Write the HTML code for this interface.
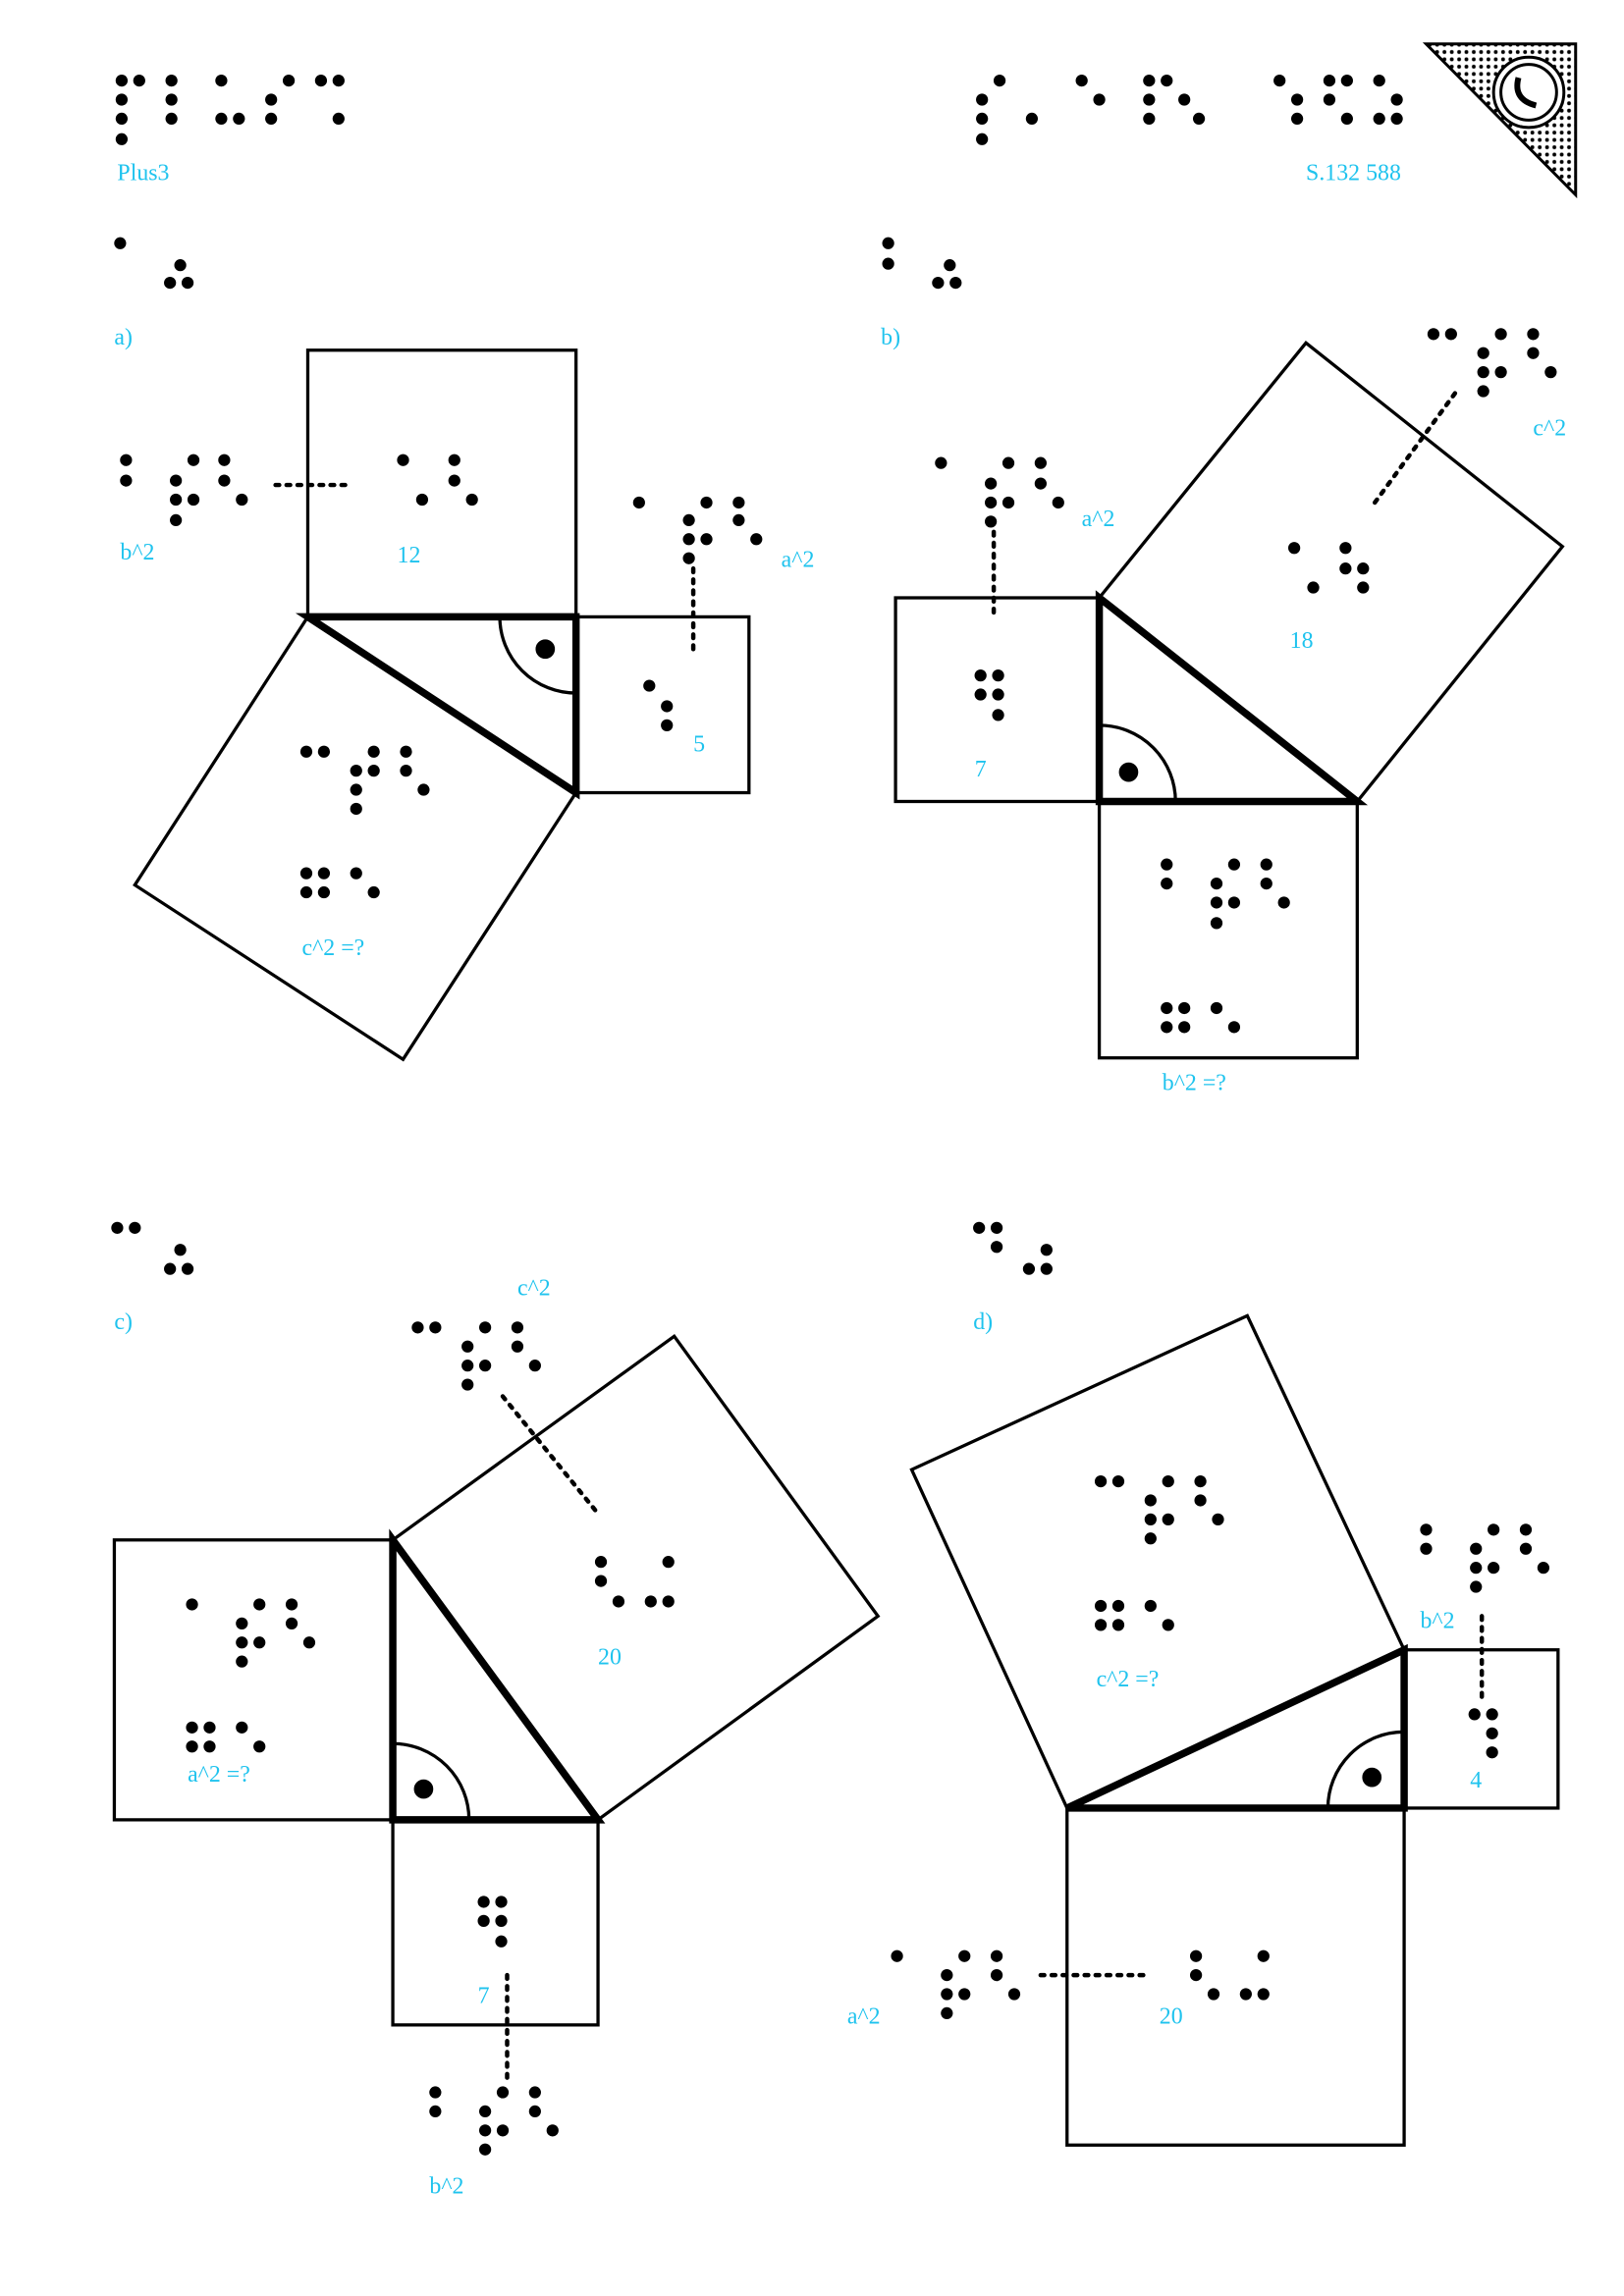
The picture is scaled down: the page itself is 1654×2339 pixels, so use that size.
<!DOCTYPE html>
<html><head><meta charset="utf-8"><style>html,body{margin:0;padding:0;background:#fff}svg{display:block}
text{font-family:"Liberation Serif",serif;fill:#1fc3ee;font-size:16px}
circle.d{r:4.2}</style></head><body>
<svg width="1654" height="2339" viewBox="2 2 1108 1567" preserveAspectRatio="none" xmlns="http://www.w3.org/2000/svg">
<defs><pattern id="dp" width="5" height="5" patternUnits="userSpaceOnUse"><circle cx="2.5" cy="2.5" r="1.3" fill="#000"/></pattern></defs>
<rect width="1120" height="1580" fill="#fff"/>
<polygon points="975,32 1077,32 1077,135" fill="url(#dp)" stroke="#000" stroke-width="2"/>
<circle cx="1045" cy="65" r="24" fill="#fff" stroke="#000" stroke-width="2"/>
<circle cx="1045" cy="65" r="19" fill="none" stroke="#000" stroke-width="2"/>
<path d="M1038,55 Q1034,70 1050,74" fill="none" stroke="#000" stroke-width="4"/>
<g fill="#000" stroke="#000" stroke-width="1.2">
<circle cx="85" cy="57" r="3.5"/><circle cx="97" cy="57" r="3.5"/><circle cx="85" cy="70" r="3.5"/><circle cx="85" cy="83" r="3.5"/><circle cx="85" cy="97" r="3.5"/>
<circle cx="119" cy="57" r="3.5"/><circle cx="119" cy="70" r="3.5"/><circle cx="119" cy="83" r="3.5"/>
<circle cx="153" cy="57" r="3.5"/><circle cx="153" cy="83" r="3.5"/><circle cx="165" cy="83" r="3.5"/>
<circle cx="187" cy="70" r="3.5"/><circle cx="199" cy="57" r="3.5"/><circle cx="187" cy="83" r="3.5"/>
<circle cx="221" cy="57" r="3.5"/><circle cx="233" cy="57" r="3.5"/><circle cx="233" cy="83" r="3.5"/>
<circle cx="672" cy="70" r="3.5"/><circle cx="684" cy="57" r="3.5"/><circle cx="672" cy="83" r="3.5"/><circle cx="672" cy="97" r="3.5"/><circle cx="706" cy="83" r="3.5"/>
<circle cx="740" cy="57" r="3.5"/><circle cx="752" cy="70" r="3.5"/><circle cx="786" cy="57" r="3.5"/><circle cx="798" cy="57" r="3.5"/><circle cx="786" cy="70" r="3.5"/><circle cx="786" cy="83" r="3.5"/><circle cx="810" cy="70" r="3.5"/><circle cx="820" cy="83" r="3.5"/>
<circle cx="875" cy="57" r="3.5"/><circle cx="887" cy="70" r="3.5"/><circle cx="887" cy="83" r="3.5"/><circle cx="909" cy="57" r="3.5"/><circle cx="921" cy="57" r="3.5"/><circle cx="909" cy="70" r="3.5"/><circle cx="921" cy="83" r="3.5"/><circle cx="943" cy="57" r="3.5"/><circle cx="955" cy="70" r="3.5"/><circle cx="943" cy="83" r="3.5"/><circle cx="955" cy="83" r="3.5"/>
<circle cx="84" cy="168" r="3.5"/><circle cx="125" cy="183" r="3.5"/><circle cx="118" cy="195" r="3.5"/><circle cx="130" cy="195" r="3.5"/>
<circle cx="608" cy="168" r="3.5"/><circle cx="608" cy="182" r="3.5"/><circle cx="650" cy="183" r="3.5"/><circle cx="642" cy="195" r="3.5"/><circle cx="654" cy="195" r="3.5"/>
<circle cx="82" cy="840" r="3.5"/><circle cx="94" cy="840" r="3.5"/><circle cx="125" cy="855" r="3.5"/><circle cx="118" cy="868" r="3.5"/><circle cx="130" cy="868" r="3.5"/>
<circle cx="670" cy="840" r="3.5"/><circle cx="682" cy="840" r="3.5"/><circle cx="682" cy="853" r="3.5"/><circle cx="716" cy="855" r="3.5"/><circle cx="704" cy="868" r="3.5"/><circle cx="716" cy="868" r="3.5"/>
<circle cx="88" cy="316" r="3.5"/><circle cx="88" cy="330" r="3.5"/><circle cx="122" cy="330" r="3.5"/><circle cx="134" cy="316" r="3.5"/><circle cx="122" cy="343" r="3.5"/><circle cx="122" cy="357" r="3.5"/><circle cx="134" cy="343" r="3.5"/><circle cx="155" cy="316" r="3.5"/><circle cx="155" cy="330" r="3.5"/><circle cx="167" cy="343" r="3.5"/>
<circle cx="277" cy="316" r="3.5"/><circle cx="290" cy="343" r="3.5"/><circle cx="312" cy="316" r="3.5"/><circle cx="312" cy="330" r="3.5"/><circle cx="324" cy="343" r="3.5"/>
<circle cx="438" cy="345" r="3.5"/><circle cx="472" cy="357" r="3.5"/><circle cx="484" cy="345" r="3.5"/><circle cx="472" cy="370" r="3.5"/><circle cx="472" cy="383" r="3.5"/><circle cx="484" cy="370" r="3.5"/><circle cx="506" cy="345" r="3.5"/><circle cx="506" cy="357" r="3.5"/><circle cx="518" cy="370" r="3.5"/>
<circle cx="445" cy="470" r="3.5"/><circle cx="457" cy="484" r="3.5"/><circle cx="457" cy="497" r="3.5"/>
<circle cx="211" cy="515" r="3.5"/><circle cx="223" cy="515" r="3.5"/><circle cx="245" cy="528" r="3.5"/><circle cx="257" cy="515" r="3.5"/><circle cx="245" cy="541" r="3.5"/><circle cx="257" cy="528" r="3.5"/><circle cx="245" cy="554" r="3.5"/><circle cx="279" cy="515" r="3.5"/><circle cx="279" cy="528" r="3.5"/><circle cx="291" cy="541" r="3.5"/>
<circle cx="211" cy="598" r="3.5"/><circle cx="223" cy="598" r="3.5"/><circle cx="211" cy="611" r="3.5"/><circle cx="223" cy="611" r="3.5"/><circle cx="245" cy="598" r="3.5"/><circle cx="257" cy="611" r="3.5"/>
<circle cx="374" cy="445" r="6"/>
<circle cx="644" cy="318" r="3.5"/><circle cx="678" cy="332" r="3.5"/><circle cx="690" cy="318" r="3.5"/><circle cx="678" cy="345" r="3.5"/><circle cx="678" cy="358" r="3.5"/><circle cx="690" cy="345" r="3.5"/><circle cx="712" cy="318" r="3.5"/><circle cx="712" cy="332" r="3.5"/><circle cx="724" cy="345" r="3.5"/>
<circle cx="980" cy="230" r="3.5"/><circle cx="992" cy="230" r="3.5"/><circle cx="1014" cy="243" r="3.5"/><circle cx="1026" cy="230" r="3.5"/><circle cx="1014" cy="256" r="3.5"/><circle cx="1014" cy="269" r="3.5"/><circle cx="1026" cy="256" r="3.5"/><circle cx="1048" cy="230" r="3.5"/><circle cx="1048" cy="243" r="3.5"/><circle cx="1060" cy="256" r="3.5"/>
<circle cx="885" cy="376" r="3.5"/><circle cx="898" cy="403" r="3.5"/><circle cx="920" cy="376" r="3.5"/><circle cx="920" cy="390" r="3.5"/><circle cx="932" cy="390" r="3.5"/><circle cx="932" cy="403" r="3.5"/>
<circle cx="671" cy="463" r="3.5"/><circle cx="683" cy="463" r="3.5"/><circle cx="671" cy="476" r="3.5"/><circle cx="683" cy="476" r="3.5"/><circle cx="683" cy="490" r="3.5"/>
<circle cx="798" cy="592" r="3.5"/><circle cx="798" cy="605" r="3.5"/><circle cx="832" cy="605" r="3.5"/><circle cx="844" cy="592" r="3.5"/><circle cx="832" cy="618" r="3.5"/><circle cx="832" cy="632" r="3.5"/><circle cx="844" cy="618" r="3.5"/><circle cx="866" cy="592" r="3.5"/><circle cx="866" cy="605" r="3.5"/><circle cx="878" cy="618" r="3.5"/>
<circle cx="798" cy="690" r="3.5"/><circle cx="810" cy="690" r="3.5"/><circle cx="798" cy="703" r="3.5"/><circle cx="810" cy="703" r="3.5"/><circle cx="832" cy="690" r="3.5"/><circle cx="844" cy="703" r="3.5"/>
<circle cx="772" cy="529" r="6"/>
<circle cx="287" cy="908" r="3.5"/><circle cx="299" cy="908" r="3.5"/><circle cx="321" cy="921" r="3.5"/><circle cx="333" cy="908" r="3.5"/><circle cx="321" cy="934" r="3.5"/><circle cx="321" cy="947" r="3.5"/><circle cx="333" cy="934" r="3.5"/><circle cx="355" cy="908" r="3.5"/><circle cx="355" cy="921" r="3.5"/><circle cx="367" cy="934" r="3.5"/>
<circle cx="412" cy="1068" r="3.5"/><circle cx="412" cy="1081" r="3.5"/><circle cx="424" cy="1095" r="3.5"/><circle cx="446" cy="1095" r="3.5"/><circle cx="458" cy="1095" r="3.5"/><circle cx="458" cy="1068" r="3.5"/>
<circle cx="133" cy="1097" r="3.5"/><circle cx="167" cy="1110" r="3.5"/><circle cx="179" cy="1097" r="3.5"/><circle cx="167" cy="1123" r="3.5"/><circle cx="167" cy="1136" r="3.5"/><circle cx="179" cy="1123" r="3.5"/><circle cx="201" cy="1097" r="3.5"/><circle cx="201" cy="1110" r="3.5"/><circle cx="213" cy="1123" r="3.5"/>
<circle cx="133" cy="1181" r="3.5"/><circle cx="145" cy="1181" r="3.5"/><circle cx="133" cy="1194" r="3.5"/><circle cx="145" cy="1194" r="3.5"/><circle cx="167" cy="1181" r="3.5"/><circle cx="179" cy="1194" r="3.5"/>
<circle cx="332" cy="1300" r="3.5"/><circle cx="344" cy="1300" r="3.5"/><circle cx="332" cy="1313" r="3.5"/><circle cx="344" cy="1313" r="3.5"/><circle cx="344" cy="1327" r="3.5"/>
<circle cx="299" cy="1430" r="3.5"/><circle cx="299" cy="1443" r="3.5"/><circle cx="333" cy="1443" r="3.5"/><circle cx="345" cy="1430" r="3.5"/><circle cx="333" cy="1456" r="3.5"/><circle cx="333" cy="1469" r="3.5"/><circle cx="345" cy="1456" r="3.5"/><circle cx="367" cy="1430" r="3.5"/><circle cx="367" cy="1443" r="3.5"/><circle cx="379" cy="1456" r="3.5"/>
<circle cx="291" cy="1223" r="6"/>
<circle cx="753" cy="1013" r="3.5"/><circle cx="765" cy="1013" r="3.5"/><circle cx="787" cy="1026" r="3.5"/><circle cx="799" cy="1013" r="3.5"/><circle cx="787" cy="1039" r="3.5"/><circle cx="787" cy="1052" r="3.5"/><circle cx="799" cy="1039" r="3.5"/><circle cx="821" cy="1013" r="3.5"/><circle cx="821" cy="1026" r="3.5"/><circle cx="833" cy="1039" r="3.5"/>
<circle cx="753" cy="1098" r="3.5"/><circle cx="765" cy="1098" r="3.5"/><circle cx="753" cy="1111" r="3.5"/><circle cx="765" cy="1111" r="3.5"/><circle cx="787" cy="1098" r="3.5"/><circle cx="799" cy="1111" r="3.5"/>
<circle cx="975" cy="1046" r="3.5"/><circle cx="975" cy="1059" r="3.5"/><circle cx="1009" cy="1059" r="3.5"/><circle cx="1021" cy="1046" r="3.5"/><circle cx="1009" cy="1072" r="3.5"/><circle cx="1009" cy="1085" r="3.5"/><circle cx="1021" cy="1072" r="3.5"/><circle cx="1043" cy="1046" r="3.5"/><circle cx="1043" cy="1059" r="3.5"/><circle cx="1055" cy="1072" r="3.5"/>
<circle cx="1008" cy="1172" r="3.5"/><circle cx="1020" cy="1172" r="3.5"/><circle cx="1020" cy="1185" r="3.5"/><circle cx="1020" cy="1198" r="3.5"/>
<circle cx="614" cy="1337" r="3.5"/><circle cx="648" cy="1350" r="3.5"/><circle cx="660" cy="1337" r="3.5"/><circle cx="648" cy="1363" r="3.5"/><circle cx="648" cy="1376" r="3.5"/><circle cx="660" cy="1363" r="3.5"/><circle cx="682" cy="1337" r="3.5"/><circle cx="682" cy="1350" r="3.5"/><circle cx="694" cy="1363" r="3.5"/>
<circle cx="818" cy="1337" r="3.5"/><circle cx="818" cy="1350" r="3.5"/><circle cx="830" cy="1363" r="3.5"/><circle cx="852" cy="1363" r="3.5"/><circle cx="864" cy="1363" r="3.5"/><circle cx="864" cy="1337" r="3.5"/>
<circle cx="938" cy="1215" r="6"/>
</g>
<g fill="none" stroke="#000" stroke-width="2.2">
<rect x="212" y="241" width="183" height="182"/><rect x="395" y="423" width="118" height="120"/>
<polygon points="212,423 395,543 277,725 94,606"/>
<path d="M343,423 A52,52 0 0 0 395,475"/>
<rect x="613" y="410" width="139" height="139"/><rect x="752" y="549" width="176" height="175"/>
<polygon points="752,410 893,236 1068,375 928,549"/>
<path d="M752,497 A52,52 0 0 1 804,549"/>
<rect x="80" y="1053" width="190" height="191"/><rect x="270" y="1244" width="140" height="140"/>
<polygon points="270,1053 462,914 601,1105 410,1244"/>
<path d="M270,1192 A52,52 0 0 1 322,1244"/>
<rect x="960" y="1128" width="105" height="108"/><rect x="730" y="1236" width="230" height="230"/>
<polygon points="730,1236 624,1005 853,900 960,1128"/>
<path d="M908,1236 A52,52 0 0 1 960,1184"/>
</g>
<g fill="none" stroke="#000" stroke-width="5" stroke-linejoin="miter">
<polygon points="212,423 395,423 395,543"/>
<polygon points="752,410 928,549 752,549"/>
<polygon points="270,1053 270,1244 410,1244"/>
<polygon points="730,1236 960,1128 960,1236"/>
</g>
<g fill="none" stroke="#000" stroke-width="3" stroke-dasharray="2.5 5" stroke-linecap="round">
<line x1="190" y1="333" x2="240" y2="333"/><line x1="475" y1="390" x2="475" y2="450"/>
<line x1="680" y1="365" x2="680" y2="425"/><line x1="940" y1="345" x2="995" y2="270"/>
<line x1="345" y1="955" x2="410" y2="1035"/><line x1="348" y1="1350" x2="348" y2="1420"/>
<line x1="1013" y1="1105" x2="1013" y2="1165"/><line x1="712" y1="1350" x2="785" y2="1350"/>
</g>
<text x="82" y="125">Plus3</text><text x="893" y="125">S.132 588</text>
<text x="80" y="237">a)</text><text x="84" y="384">b^2</text><text x="273" y="386">12</text><text x="535" y="389">a^2</text><text x="475" y="515">5</text><text x="208" y="654">c^2 =?</text>
<text x="603" y="237">b)</text><text x="740" y="361">a^2</text><text x="1048" y="299">c^2</text><text x="882" y="444">18</text><text x="667" y="532">7</text><text x="795" y="746">b^2 =?</text>
<text x="80" y="909">c)</text><text x="355" y="886">c^2</text><text x="410" y="1138">20</text><text x="130" y="1218">a^2 =?</text><text x="328" y="1369">7</text><text x="295" y="1499">b^2</text>
<text x="666" y="909">d)</text><text x="971" y="1113">b^2</text><text x="750" y="1153">c^2 =?</text><text x="1005" y="1222">4</text><text x="580" y="1383">a^2</text><text x="793" y="1383">20</text>
</svg>
</body></html>
